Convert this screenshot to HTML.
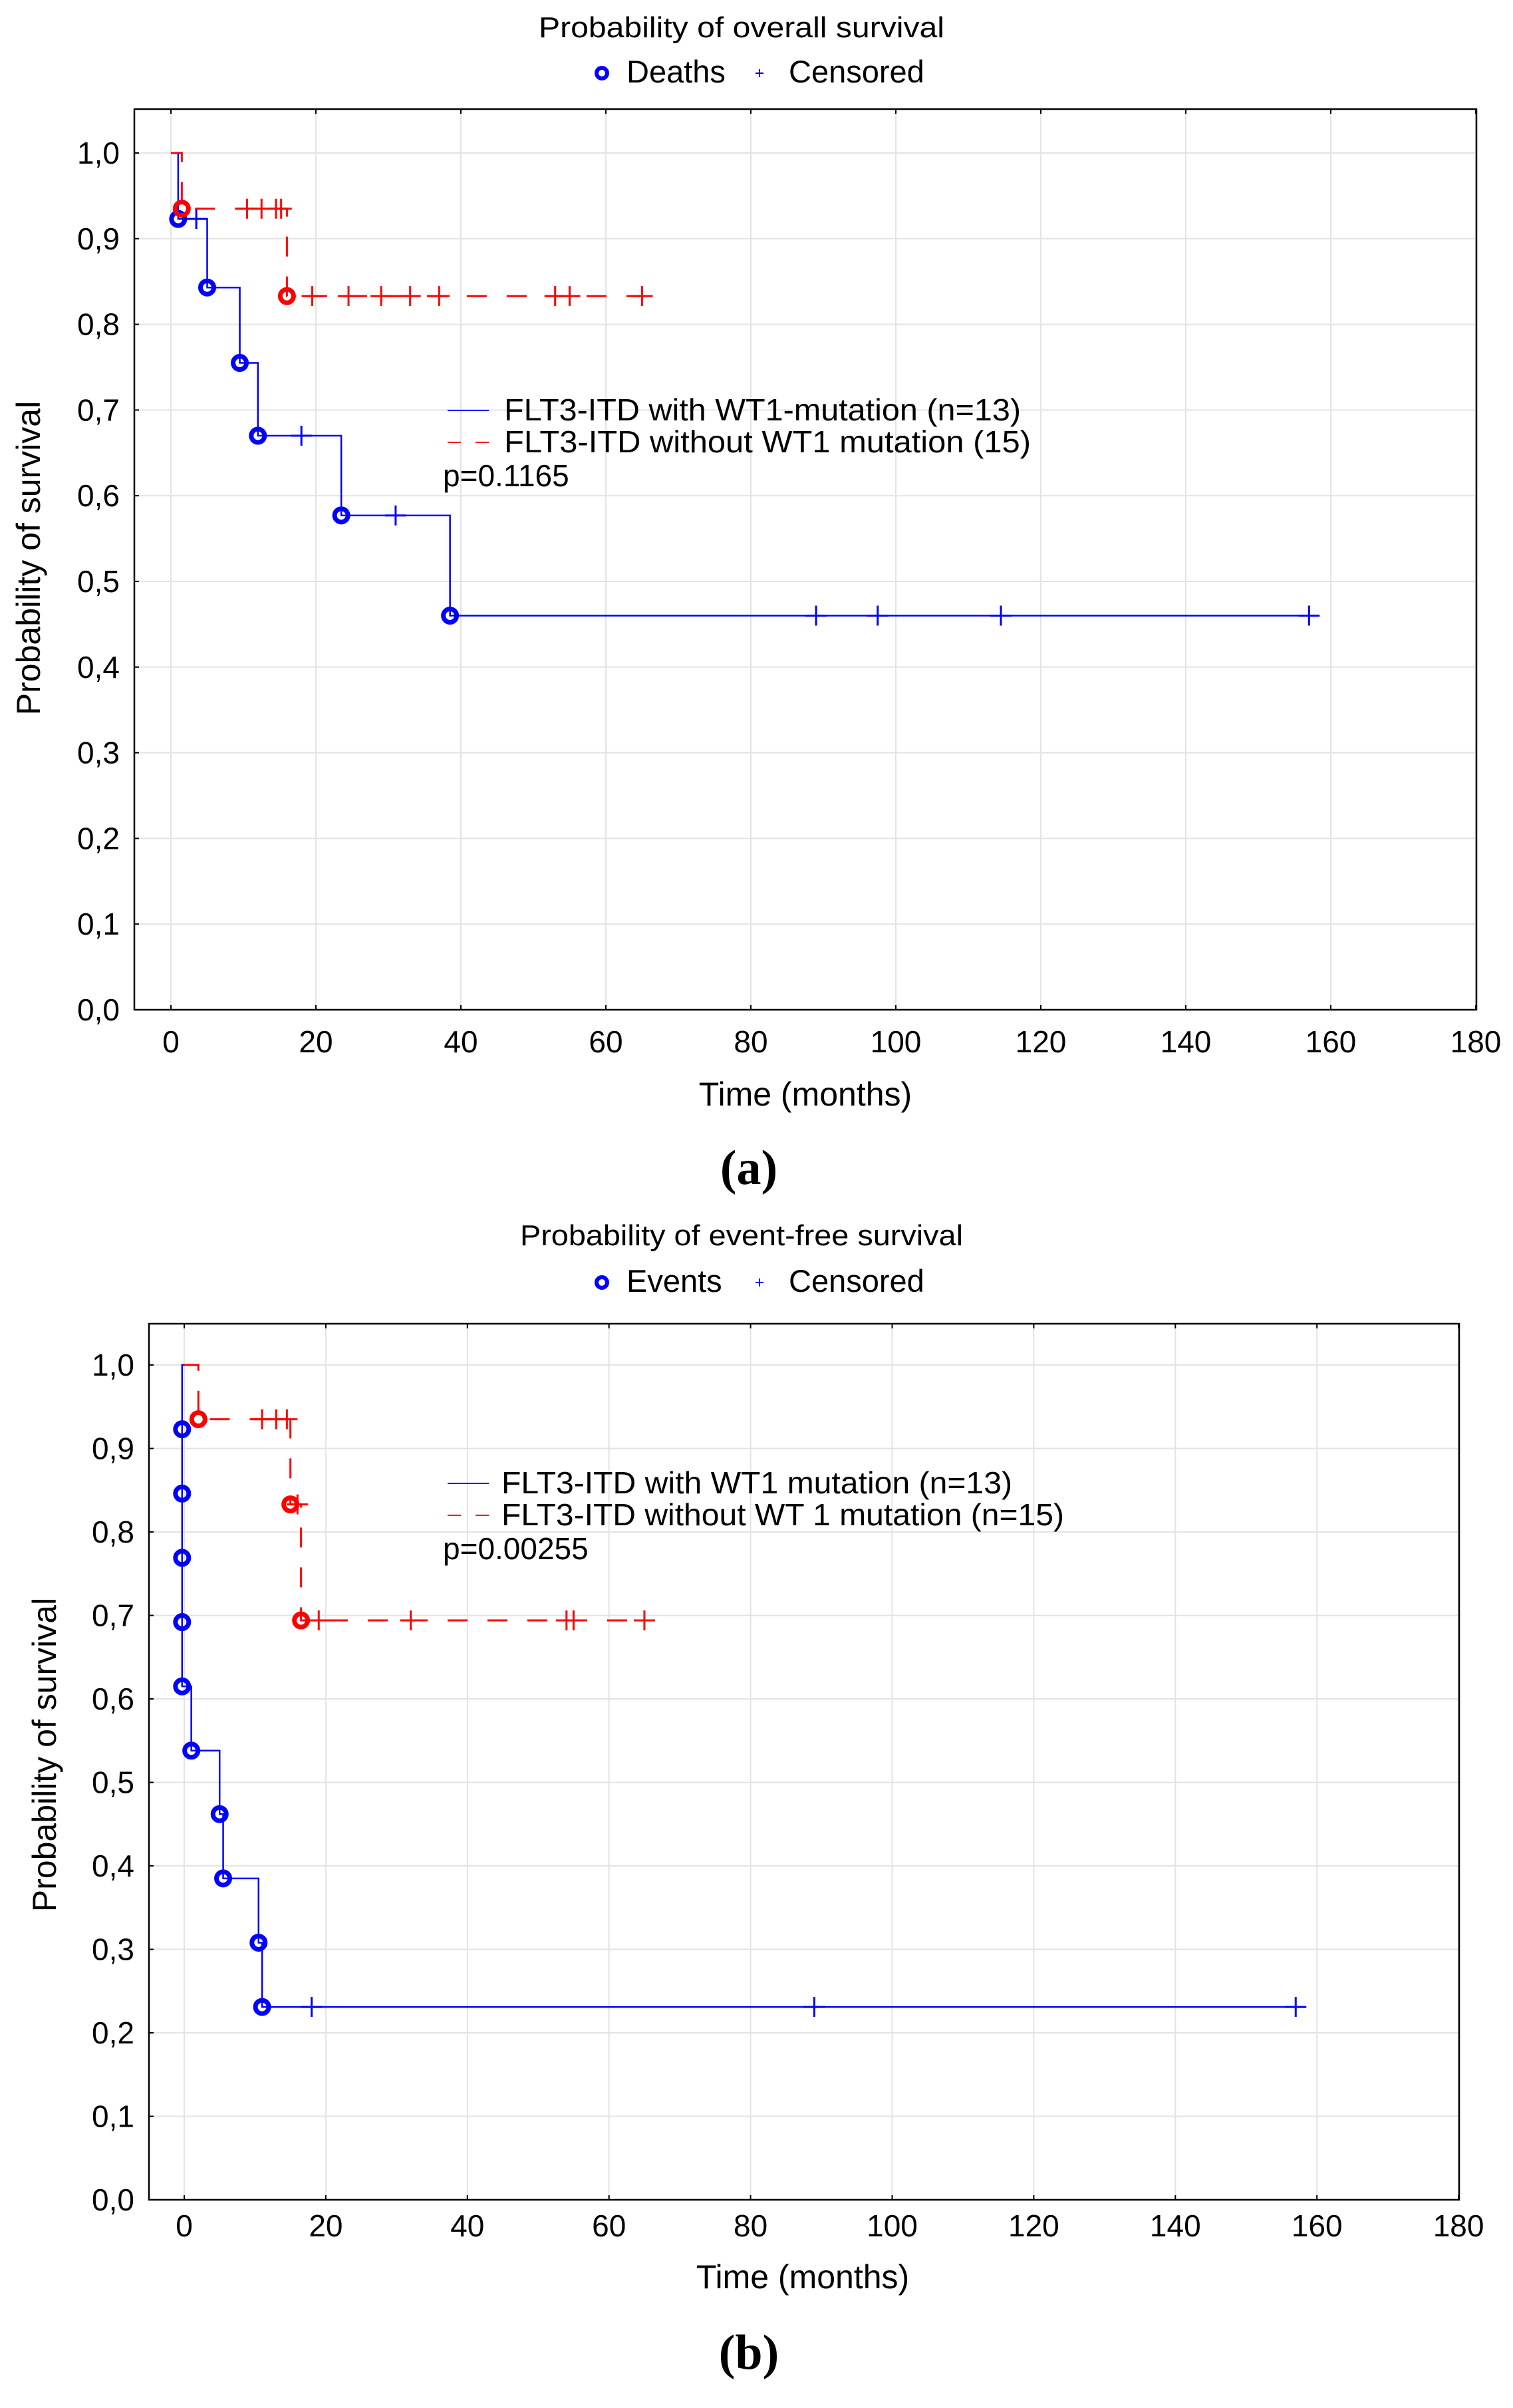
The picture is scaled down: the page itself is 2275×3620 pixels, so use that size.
<!DOCTYPE html>
<html><head><meta charset="utf-8"><style>
html,body{margin:0;padding:0;background:#fff}
svg{display:block;font-family:"Liberation Sans",sans-serif}
</style></head><body>
<svg id="svg" width="2275" height="3620" viewBox="0 0 2275 3620" xmlns="http://www.w3.org/2000/svg">
<rect width="2275" height="3620" fill="#fff"/>
</svg>
<script>
// ---- Chart A data (overall survival) ----
const aBlueSteps = [[0,1.0],[1,0.923],[5,0.843],[9.5,0.755],[12,0.67],[23.5,0.577],[38.5,0.46]];
const aBlueEnd = 157.5;
const aBlueCens = [[3.5,0.923],[18,0.67],[31,0.577],[89,0.46],[97.5,0.46],[114.5,0.46],[157,0.46]];
const aRedSteps = [[0,1.0],[1.5,0.935],[16,0.833]];
const aRedEnd = 65;
const aRedCens = [[10.5,0.935],[12.5,0.935],[14.5,0.935],[15.2,0.935],[19.5,0.833],[24.5,0.833],[29,0.833],[33,0.833],[37,0.833],[53,0.833],[55,0.833],[65,0.833]];
// ---- Chart B data (event-free survival) ----
const bBlueSteps = [[0,1.0],[-0.3,0.923],[-0.3,0.846],[-0.3,0.769],[-0.3,0.692],[-0.3,0.615],[1,0.538],[5,0.462],[5.5,0.385],[10.5,0.308],[11,0.231]];
const bBlueEnd = 157.5;
const bBlueCens = [[18,0.231],[89,0.231],[157,0.231]];
const bRedSteps = [[0,1.0],[2,0.935],[15,0.833],[16.5,0.694]];
const bRedEnd = 65;
const bRedCens = [[11,0.935],[13,0.935],[14.5,0.935],[16,0.833],[19,0.694],[32,0.694],[54,0.694],[55,0.694],[65,0.694]];
const xTicks = [0,20,40,60,80,100,120,140,160,180];
const yTicks = [0,0.1,0.2,0.3,0.4,0.5,0.6,0.7,0.8,0.9,1.0];
const yTickLabels = ["0,0","0,1","0,2","0,3","0,4","0,5","0,6","0,7","0,8","0,9","1,0"];

const NS="http://www.w3.org/2000/svg";
const svg=document.getElementById('svg');
function mk(tag,attrs,parent){const e=document.createElementNS(NS,tag);for(const k in attrs)e.setAttribute(k,attrs[k]);(parent||svg).appendChild(e);return e;}
function txt(s,attrs,parent){const e=mk('text',attrs,parent);e.textContent=s;return e;}

function chart(cfg){
  const g=mk('g',{});
  
  
  const X=v=>cfg.x0+v*cfg.xs, Y=v=>cfg.y0-v*cfg.ys;
  xTicks.forEach(t=>{const l=mk('line',{x1:X(t),x2:X(t),y1:cfg.top,y2:cfg.bottom,stroke:'#e3e3e3','stroke-width':2},g);
    });
  yTicks.forEach(t=>{const l=mk('line',{x1:cfg.left,x2:cfg.right,y1:Y(t),y2:Y(t),stroke:'#e3e3e3','stroke-width':2},g);
    });
  const fr=mk('rect',{x:cfg.left,y:cfg.top,width:cfg.right-cfg.left,height:cfg.bottom-cfg.top,fill:'none',stroke:'#000','stroke-width':2.5},g);
  
  xTicks.forEach(t=>{mk('line',{x1:X(t),x2:X(t),y1:cfg.bottom,y2:cfg.bottom-7,stroke:'#000','stroke-width':2},g);
    mk('line',{x1:X(t),x2:X(t),y1:cfg.top,y2:cfg.top+7,stroke:'#000','stroke-width':2},g);
    const l=txt(String(t),{x:X(t),y:cfg.xLabY,'font-size':46,'text-anchor':'middle'},g);
    });
  yTicks.forEach((t,i)=>{mk('line',{x1:cfg.left,x2:cfg.left+7,y1:Y(t),y2:Y(t),stroke:'#000','stroke-width':2},g);
    const l=txt(yTickLabels[i],{x:cfg.left-22,y:Y(t)+16,'font-size':46,'text-anchor':'end'},g);
    });
  function series(steps,end,cens,color,dash,nm){
    let d=`M${X(steps[0][0])},${Y(steps[0][1])}`;
    for(let i=1;i<steps.length;i++){d+=` H${X(steps[i][0])} V${Y(steps[i][1])}`;}
    d+=` H${X(end)}`;
    const p=mk('path',{d:d,fill:'none',stroke:color,'stroke-width':dash?3:2.5,'stroke-dasharray':dash?'30 30':'none'},g);
    
    cens.forEach(c=>{const cx=X(c[0]),cy=Y(c[1]);
      const pl=mk('path',{d:`M${cx-16},${cy} H${cx+16} M${cx},${cy-15} V${cy+15}`,stroke:color,'stroke-width':3,fill:'none'},g);
      });
    for(let i=1;i<steps.length;i++){
      const c=mk('circle',{cx:X(steps[i][0]),cy:Y(steps[i][1]),r:10,fill:'none',stroke:color,'stroke-width':7},g);
      }
  }
  series(cfg.blue[0],cfg.blue[1],cfg.blue[2],'#0000ff',false,'with-wt1');
  series(cfg.red[0],cfg.red[1],cfg.red[2],'#ff0000',true,'without-wt1');
  let t=txt(cfg.title,{x:1115,y:cfg.titleY,'font-size':44,'text-anchor':'middle',textLength:cfg.titleLen,lengthAdjust:'spacingAndGlyphs'},g);
  
  let c=mk('circle',{cx:905,cy:cfg.legY-14,r:8,fill:'none',stroke:'#0000ff','stroke-width':6},g);
  
  t=txt(cfg.evLabel,{x:942,y:cfg.legY,'font-size':47},g);
  
  let p=mk('path',{d:`M${1136},${cfg.legY-14} h12 M1142,${cfg.legY-20} v12`,stroke:'#0000ff','stroke-width':2},g);
  
  t=txt('Censored',{x:1186,y:cfg.legY,'font-size':47},g);
  
  t=txt('Time (months)',{x:cfg.xtX,y:cfg.xtY,'font-size':50,'text-anchor':'middle'},g);
  
  t=txt('Probability of survival',{x:0,y:0,'font-size':50,'text-anchor':'middle',transform:`translate(${cfg.ytX},${cfg.ytY}) rotate(-90)`},g);
  
  let l=mk('line',{x1:cfg.lgX,x2:cfg.lgX+62,y1:cfg.lgY1-15,y2:cfg.lgY1-15,stroke:'#0000ff','stroke-width':2},g);
  
  t=txt(cfg.l1,{x:cfg.lgTX,y:cfg.lgY1,'font-size':46,textLength:cfg.l1Len,lengthAdjust:'spacingAndGlyphs'},g);
  
  l=mk('line',{x1:cfg.lgX,x2:cfg.lgX+62,y1:cfg.lgY2-15,y2:cfg.lgY2-15,stroke:'#ff0000','stroke-width':2,'stroke-dasharray':'20 22'},g);
  
  t=txt(cfg.l2,{x:cfg.lgTX,y:cfg.lgY2,'font-size':46,textLength:cfg.l2Len,lengthAdjust:'spacingAndGlyphs'},g);
  
  t=txt(cfg.pval,{x:cfg.pX,y:cfg.pY,'font-size':46},g);
  
  t=txt(cfg.panel,{x:1126,y:cfg.panelY,'font-size':74,'font-weight':'bold','text-anchor':'middle','font-family':'Liberation Serif, serif'},g);
  
}

chart({name:'overall-survival-chart',left:202,right:2220,top:164,bottom:1518,x0:257,xs:10.9,y0:1518,ys:1288,
  blue:[aBlueSteps,aBlueEnd,aBlueCens],red:[aRedSteps,aRedEnd,aRedCens],
  title:'Probability of overall survival',titleY:56,titleLen:610,legY:124,evLabel:'Deaths',
  xLabY:1582,xtX:1211,xtY:1662,ytX:60,ytY:839,
  lgX:673,lgY1:632,lgY2:680,lgTX:758,l1:'FLT3-ITD with WT1-mutation (n=13)',l1Len:777,l2:'FLT3-ITD without WT1 mutation (15)',l2Len:792,
  pval:'p=0.1165',pX:666,pY:731,panel:'(a)',panelY:1780});
chart({name:'event-free-survival-chart',left:224,right:2194,top:1990,bottom:3307,x0:277,xs:10.645,y0:3307,ys:1255,
  blue:[bBlueSteps,bBlueEnd,bBlueCens],red:[bRedSteps,bRedEnd,bRedCens],
  title:'Probability of event-free survival',titleY:1872,titleLen:666,legY:1942,evLabel:'Events',
  xLabY:3362,xtX:1207,xtY:3440,ytX:84,ytY:2638,
  lgX:673,lgY1:2245,lgY2:2293,lgTX:754,l1:'FLT3-ITD with WT1 mutation (n=13)',l1Len:768,l2:'FLT3-ITD without WT 1 mutation (n=15)',l2Len:846,
  pval:'p=0.00255',pX:666,pY:2344,panel:'(b)',panelY:3561});
</script>
</body></html>
